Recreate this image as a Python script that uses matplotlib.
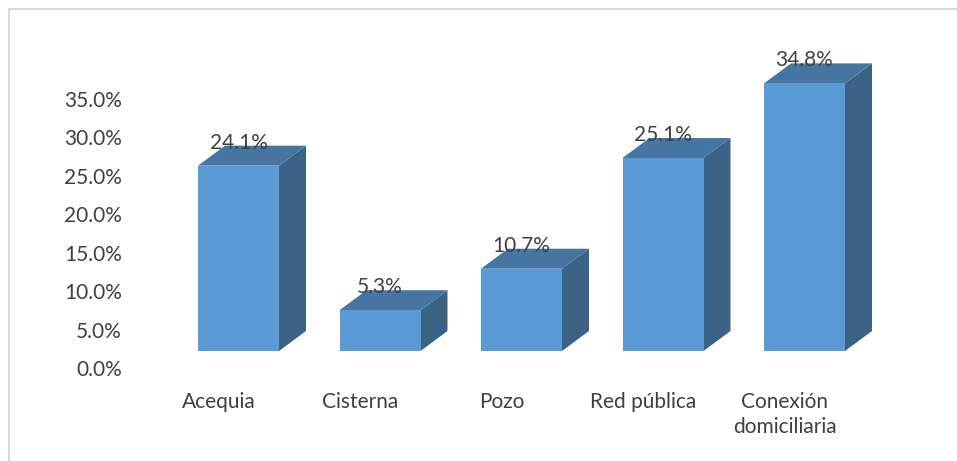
import matplotlib
matplotlib.use("Agg")
import matplotlib.pyplot as plt
from matplotlib.patches import Polygon, Rectangle

categories = ["Acequia", "Cisterna", "Pozo", "Red pública", "Conexión\ndomiciliaria"]
values = [24.1, 5.3, 10.7, 25.1, 34.8]
yticks = [0, 5, 10, 15, 20, 25, 30, 35]

plt.rcParams["font.family"] = ["Lato", "DejaVu Sans"]
text_col = "#404040"
front_col = "#5B9BD5"
top_col = "#4675A1"
side_col = "#3A6386"

W, H = 957, 461
fig = plt.figure(figsize=(W / 100, H / 100), dpi=100)

# pixel calibration: 0% at y=368, 7.69 px per percent; bars 141.5 px apart
ppy = 7.69
ppx = 141.5
y0px = 368
x0px = 238.5
ax_left_px, ax_right_px = 130, 930
ymin, ymax = -2.0, 40.0
xmin = (ax_left_px - x0px) / ppx
xmax = (ax_right_px - x0px) / ppx
bot_px = y0px + (-ymin) * ppy
top_px = y0px - ymax * ppy
ax = fig.add_axes([ax_left_px / W, (H - bot_px) / H,
                   (ax_right_px - ax_left_px) / W, (bot_px - top_px) / H])
ax.set_xlim(xmin, xmax)
ax.set_ylim(ymin, ymax)

# frame around the chart area
fig.patches.append(Rectangle((9 / W, -0.05), 1.05, (H - 9) / H + 0.05,
                             transform=fig.transFigure, fill=False,
                             edgecolor="#d9d9d9", linewidth=1.5))

base = 17 / ppy          # front face sits a bit above the 0 line
half = 81 / ppx / 2      # half width of front face
dx = 27 / ppx            # depth offset to the right
dy = 20 / ppy            # depth offset upwards

for i, v in enumerate(values):
    l, r = i - half, i + half
    b, t = base, base + v
    ax.add_patch(Polygon([(r, b), (r + dx, b + dy), (r + dx, t + dy), (r, t)],
                         closed=True, facecolor=side_col, edgecolor="none"))
    ax.add_patch(Polygon([(l, t), (r, t), (r + dx, t + dy), (l + dx, t + dy)],
                         closed=True, facecolor=top_col, edgecolor="none"))
    ax.add_patch(Rectangle((l, b), r - l, t - b, facecolor=front_col,
                           edgecolor="none"))
    ax.text(i, t + 23 / ppy, f"{v:.1f}%", ha="center", va="center",
            fontsize=15, color=text_col)

ax.set_yticks(yticks)
ax.set_yticklabels([f"{t:.1f}%" for t in yticks])
ax.set_xticks([i - 20 / ppx for i in range(len(categories))])
ax.set_xticklabels(categories, linespacing=1.35)
ax.tick_params(axis="both", length=0, labelsize=15, labelcolor=text_col)
ax.tick_params(axis="y", pad=6)
ax.tick_params(axis="x", pad=6)
for s in ax.spines.values():
    s.set_visible(False)

fig.savefig("out.png", dpi=100)
